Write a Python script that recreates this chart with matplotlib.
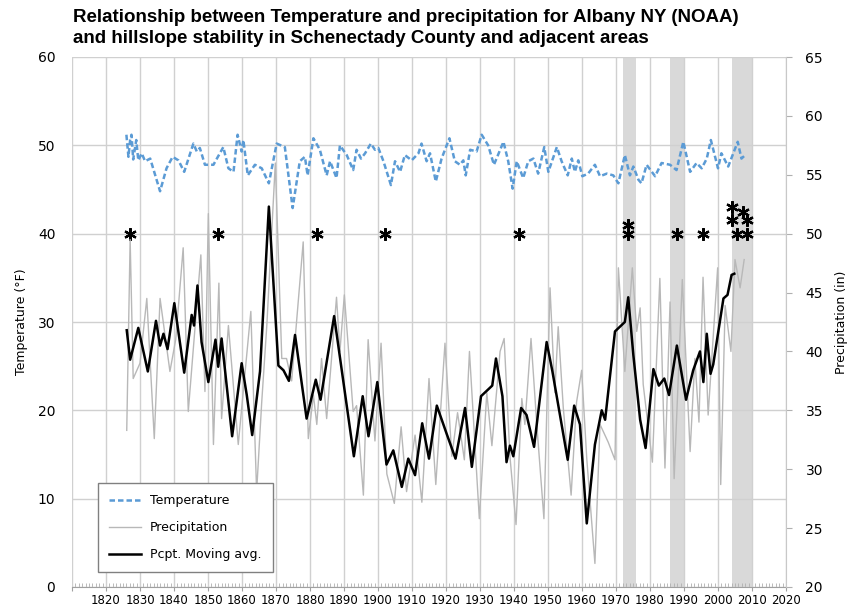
import numpy as np
import matplotlib.pyplot as plt

# temperature (left axis, deg F)
temp_year = [1826, 1826.6, 1827.1, 1827.5, 1828, 1828.9, 1829.5, 1830.5, 1831.5, 1833,
             1835.9, 1837.8, 1839.6, 1841.3, 1843, 1845.7, 1846.7, 1847.6, 1849.1, 1851.6,
             1854.5, 1856, 1857.5, 1858.7, 1859.9, 1860.4, 1861.7, 1863.8, 1865.8, 1867.9,
             1870.2, 1872.6, 1874.9, 1877, 1878.5, 1879.3, 1881, 1882.9, 1884.9, 1885.9,
             1887.8, 1888.8, 1890.8, 1892.7, 1893.7, 1895, 1896.2, 1897.9, 1899.1, 1900.1,
             1901.6, 1903.8, 1905, 1906.5, 1907.9, 1909.9, 1911.9, 1912.8, 1914.3, 1915.3,
             1917, 1918.7, 1921, 1922.6, 1924.1, 1925.1, 1925.8, 1927.1, 1929, 1930.5,
             1932.4, 1934.1, 1936.9, 1938.3, 1939.6, 1940.8, 1942.7, 1944.2, 1945.7, 1947.1,
             1948.9, 1950.1, 1952.6, 1954, 1955.8, 1957, 1957.9, 1958.9, 1960.1, 1961.8,
             1963.8, 1965.3, 1967.3, 1969.2, 1970.7, 1972.6, 1974.1, 1975.1, 1976.6, 1977.5,
             1979, 1981.5, 1983.4, 1985.9, 1987.8, 1989.8, 1991.8, 1993.7, 1995.2, 1996.7,
             1997.9, 2000, 2001, 2003, 2005.8, 2006.9, 2008]
temp_val = [51.2, 48.7, 50.6, 51.2, 48.4, 50.6, 48.3, 49.1, 48.2, 48.5,
            44.8, 47.4, 48.7, 48.3, 47.0, 50.2, 49.3, 49.7, 47.8, 47.8,
            49.8, 47.4, 47.0, 51.2, 49.3, 50.6, 46.6, 47.8, 47.4, 45.7,
            50.2, 49.8, 42.9, 48.2, 48.7, 46.6, 50.8, 49.5, 46.6, 48.2,
            46.3, 50.0, 48.9, 47.2, 49.5, 48.5, 49.1, 50.2, 49.5, 49.7,
            48.2, 45.5, 48.2, 47.0, 48.9, 48.3, 49.1, 50.2, 48.2, 49.1,
            45.9, 48.5, 50.8, 48.2, 47.8, 48.3, 46.6, 49.5, 49.3, 51.2,
            50.0, 47.8, 50.4, 48.2, 45.1, 48.2, 46.3, 48.2, 48.5, 46.8,
            49.8, 47.0, 49.8, 48.2, 46.6, 48.5, 47.0, 48.3, 46.5, 46.8,
            47.8, 46.5, 46.8, 46.6, 45.7, 48.9, 46.6, 47.6, 46.1, 45.7,
            47.8, 46.5, 48.0, 47.8, 47.2, 50.4, 47.0, 48.0, 47.4, 48.5,
            50.6, 47.4, 49.1, 47.6, 50.4, 48.5, 48.9]

# precipitation (right axis, in)
pcpt_year = [1826.1, 1827.1, 1828.0, 1830.0, 1832.0, 1834.2, 1835.9, 1838.8, 1840.5, 1842.7,
             1844.2, 1847.9, 1849.1, 1850.1, 1851.6, 1853.2, 1854.0, 1856.0, 1858.9, 1862.6,
             1864.3, 1865.8, 1867.3, 1869.8, 1871.7, 1873.1, 1874.6, 1878.0, 1879.5, 1881.0,
             1882.0, 1883.4, 1884.9, 1887.8, 1888.8, 1890.1, 1892.7, 1893.7, 1895.7, 1897.1,
             1899.1, 1900.9, 1902.6, 1904.8, 1906.8, 1908.4, 1910.9, 1912.9, 1915.0, 1917.0,
             1919.7, 1921.7, 1923.4, 1925.4, 1926.9, 1929.8, 1932.0, 1933.5, 1935.9, 1937.1,
             1938.8, 1940.6, 1942.3, 1943.2, 1945.0, 1946.7, 1948.8, 1950.6, 1952.0, 1953.0,
             1954.5, 1956.8, 1958.4, 1959.9, 1961.4, 1963.8, 1965.3, 1967.7, 1969.7, 1970.7,
             1972.6, 1974.8, 1976.1, 1977.1, 1978.0, 1980.7, 1982.9, 1984.4, 1985.9, 1987.1,
             1989.5, 1991.8, 1993.2, 1994.4, 1995.6, 1997.1, 1999.9, 2000.8, 2002.1, 2003.8,
             2005.0, 2006.5, 2007.7]
pcpt_val = [33.3, 49.5, 37.7, 39.0, 44.5, 32.6, 44.5, 38.3, 41.0, 48.8,
            34.9, 48.2, 36.6, 51.7, 32.1, 45.8, 34.3, 42.2, 32.1, 43.4,
            28.1, 35.7, 42.2, 56.0, 39.4, 39.4, 37.5, 49.3, 32.6, 36.3,
            33.8, 39.4, 34.3, 44.6, 40.0, 44.8, 34.9, 35.4, 27.8, 41.0,
            32.4, 40.7, 29.6, 27.1, 33.6, 28.1, 32.9, 27.2, 37.7, 28.7,
            40.7, 31.1, 34.8, 30.8, 40.0, 25.8, 36.5, 32.0, 40.0, 41.1,
            31.1, 25.3, 36.0, 33.8, 41.1, 33.8, 25.8, 45.4, 36.5, 42.1,
            35.2, 27.8, 35.7, 38.4, 30.9, 22.0, 33.8, 32.3, 30.8, 47.1,
            38.3, 47.1, 41.7, 43.7, 37.2, 30.6, 46.2, 30.1, 44.2, 29.2,
            46.1, 31.5, 39.4, 34.0, 46.3, 34.6, 47.1, 28.7, 43.9, 40.0,
            47.8, 45.4, 47.8]

# precipitation moving average (right axis, in)
avg_year = [1826.1, 1827.1, 1829.5, 1832.3, 1834.7, 1835.9, 1836.9, 1838.1, 1840.1, 1843.0,
            1845.2, 1845.9, 1846.9, 1848.1, 1850.1, 1852.2, 1853.0, 1854.0, 1857.1, 1859.9,
            1861.4, 1863.0, 1865.3, 1867.9, 1870.7, 1872.2, 1873.8, 1875.6, 1879.0, 1881.7,
            1883.1, 1887.1, 1892.9, 1895.5, 1897.2, 1899.8, 1902.5, 1904.5, 1907.0, 1908.9,
            1910.9, 1913.0, 1915.0, 1917.3, 1920.2, 1922.8, 1925.6, 1927.6, 1930.3, 1933.6,
            1934.7, 1936.6, 1937.8, 1938.8, 1939.8, 1942.1, 1943.7, 1945.9, 1949.6, 1951.3,
            1955.8, 1957.7, 1959.4, 1961.4, 1963.8, 1965.8, 1966.8, 1969.7, 1972.6, 1973.6,
            1975.1, 1977.1, 1978.7, 1981.0, 1982.6, 1984.2, 1985.6, 1987.9, 1990.6, 1992.7,
            1994.7, 1995.7, 1996.7, 1997.8, 1998.6, 2001.6, 2002.8, 2004.0, 2004.8]
avg_val = [41.8, 39.3, 42.0, 38.3, 42.6, 40.5, 41.5, 40.2, 44.1, 38.2,
           43.1, 42.2, 45.6, 40.8, 37.4, 41.0, 38.7, 41.1, 32.8, 39.0,
           36.3, 32.9, 38.3, 52.3, 38.8, 38.4, 37.5, 41.4, 34.3, 37.6,
           35.9, 43.0, 31.1, 36.2, 32.8, 37.4, 30.4, 31.6, 28.5, 30.9,
           29.5, 33.9, 30.9, 35.4, 33.0, 30.9, 35.2, 30.2, 36.2, 37.1,
           39.4, 36.2, 30.6, 32.0, 31.1, 35.2, 34.6, 31.9, 40.8, 38.3,
           30.8, 35.4, 33.8, 25.4, 32.1, 35.0, 34.2, 41.7, 42.5, 44.6,
           39.7, 34.2, 31.8, 38.5, 37.1, 37.7, 36.3, 40.5, 35.9, 38.4,
           40.0, 37.4, 41.5, 38.1, 38.9, 44.5, 44.8, 46.5, 46.6]

# hillslope failures (asterisks, plotted on left axis)
slide_year = [1827, 1853, 1882, 1902, 1941.5, 1973.4, 1973.4, 1988, 1995.7,
              2004, 2004, 2005.5, 2007.3, 2008.6, 2008.6]
slide_val = [40, 40, 40, 40, 40, 40, 41, 40, 40, 41.5, 43, 40, 42.5, 40, 41.5]

bands = [(1972, 1976), (1986, 1990), (2004, 2010)]

fig = plt.figure(figsize=(8.51, 6.08), dpi=100)
ax = fig.add_axes([72/851, 21/608, 714/851, 530/608])
ax2 = ax.twinx()

for b0, b1 in bands:
    ax.axvspan(b0, b1, color='#d9d9d9', zorder=0, lw=0)

ax.set_xlim(1810, 2020)
ax.set_ylim(0, 60)
ax2.set_ylim(20, 65)

ax.set_xticks(range(1810, 2021, 10))
ax.set_xticklabels([''] + [str(y) for y in range(1820, 2021, 10)], fontsize=8.5)
ax.set_xticks(range(1810, 2021), minor=True)
ax.set_yticks(range(0, 61, 10))
ax.tick_params(axis='y', labelsize=10, length=0, pad=12)
ax.tick_params(axis='x', which='major', length=3, color='#a0a0a0', pad=2)
ax.tick_params(axis='x', which='minor', length=3, direction='in', color='#b0b0b0')
ax2.set_yticks(range(20, 66, 5))
ax2.tick_params(axis='y', labelsize=10, length=4, color='#b0b0b0', pad=10)

ax.grid(True, color='#d0d0d0', lw=1)
ax.set_axisbelow(True)
for s in ['top', 'left']:
    ax.spines[s].set_visible(False)
    ax2.spines[s].set_visible(False)
ax.spines['bottom'].set_color('#a0a0a0')
ax2.spines['bottom'].set_visible(False)
ax2.spines['right'].set_color('#c8c8c8')
ax.spines['right'].set_visible(False)

ax.set_ylabel('Temperature (°F)', fontsize=9)
ax.yaxis.set_label_coords(-0.062, 0.5)
ax2.set_ylabel('Precipitation (in)', fontsize=9)
ax2.yaxis.set_label_coords(1.068, 0.5)

l1, = ax.plot(temp_year, temp_val, color='#5b9bd5', lw=1.8, ls=(0, (2.2, 1.2)),
              label='Temperature', zorder=3)
ax.plot(slide_year, slide_val, ls='none', marker=(6, 2, 0), ms=9, mew=1.6,
        color='black', zorder=4)
l2, = ax2.plot(pcpt_year, pcpt_val, color='#b8b8b8', lw=1, label='Precipitation')
l3, = ax2.plot(avg_year, avg_val, color='black', lw=1.8, label='Pcpt. Moving avg.')

leg = ax2.legend(handles=[l1, l2, l3], loc='lower left', bbox_to_anchor=(0.036, 0.028),
                 borderaxespad=0, fontsize=9, handlelength=2.6, handletextpad=0.7,
                 labelspacing=1.1, borderpad=0.9,
                 fancybox=False, edgecolor='#808080', framealpha=1)
leg.get_frame().set_linewidth(1)

fig.text(73/851, 1 - 9/608,
         'Relationship between Temperature and precipitation for Albany NY (NOAA)\n'
         'and hillslope stability in Schenectady County and adjacent areas',
         fontsize=13.5, fontweight='bold', va='top', ha='left', linespacing=1.3,
         family=['Liberation Sans', 'DejaVu Sans'])

fig.savefig('out.png', dpi=100)
